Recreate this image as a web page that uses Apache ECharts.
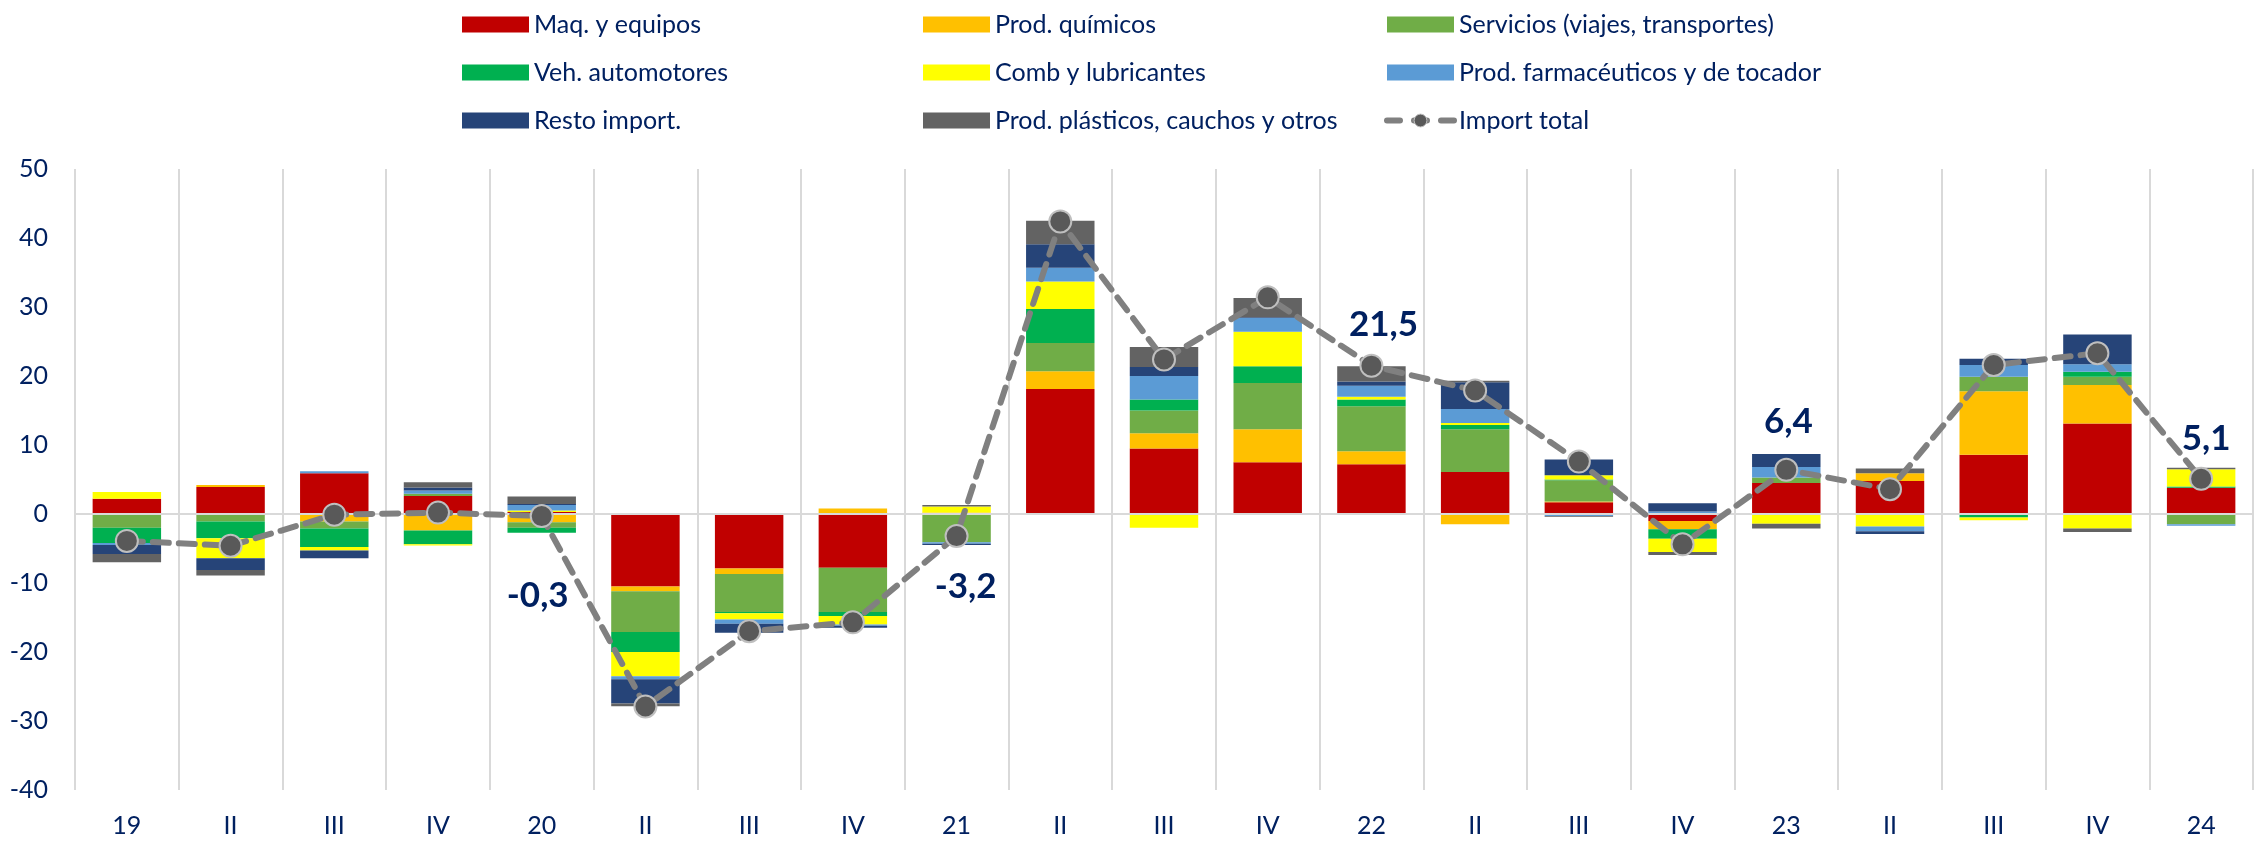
<!DOCTYPE html>
<html>
<head>
<meta charset="utf-8">
<script src="https://cdn.jsdelivr.net/npm/echarts@6/dist/echarts.min.js"></script>
<style>
  html, body { margin: 0; padding: 0; background: #ffffff; }
  #chart { width: 2265px; height: 841px; }
</style>
</head>
<body>
<div id="chart"></div>
<script>
  // trimestres
  var categorias = ['19', 'II', 'III', 'IV', '20', 'II', 'III', 'IV', '21', 'II', 'III', 'IV',
    '22', 'II', 'III', 'IV', '23', 'II', 'III', 'IV', '24'];

  // contribuciones por rubro (pp)
  var maqEquipos = [2.2, 3.9, 5.9, 2.6, 0.3, -10.5, -7.9, -7.8, 0, 18.1, 9.5, 7.5, 7.2, 6.1, 1.7, -1.0, 4.5, 4.8, 8.6, 13.1, 3.8];
  var prodQuimicos = [0, 0.3, -1.1, -2.4, -1.2, -0.7, -0.8, 0.8, 0.2, 2.6, 2.2, 4.8, 1.9, -1.5, 0.1, -1.2, 0, 1.1, 9.2, 5.6, 0];
  var servicios = [-2.0, -1.1, -1.0, 0.35, -0.8, -5.9, -5.5, -6.4, -4.1, 4.1, 3.3, 6.7, 6.5, 6.2, 3.1, 0, 0.8, 0, 2.1, 1.2, -1.5];
  var vehiculos = [-2.2, -2.4, -2.7, -2.0, -0.7, -2.9, -0.2, -0.6, 0, 4.9, 1.6, 2.4, 1.0, 0.6, 0.1, -1.4, -0.1, 0, -0.5, 0.7, 0.2];
  var combustibles = [1.0, -2.9, -0.5, -0.15, 0.2, -3.5, -0.9, -1.2, 0.9, 4.0, -2.0, 5.0, 0.4, 0.3, 0.6, -1.9, -1.3, -1.8, -0.4, -2.1, 2.5];
  var farmaceuticos = [-0.3, 0, 0.3, 0.45, 0.8, -0.45, -0.6, -0.2, -0.2, 2.0, 3.4, 2.0, 1.6, 2.0, -0.3, 0.35, 1.5, -0.7, 1.7, 1.1, -0.2];
  var restoImport = [-1.3, -1.7, -1.1, 0.45, 0.15, -3.5, -1.3, -0.3, -0.2, 3.4, 1.3, 0.1, 0.6, 3.9, 2.3, 1.2, 1.9, -0.4, 0.9, 4.3, 0];
  var plasticos = [-1.2, -0.8, 0, 0.75, 1.1, -0.4, 0, 0, 0.2, 3.4, 2.9, 2.8, 2.2, 0.2, -0.1, -0.45, -0.7, 0.7, 0, -0.5, 0.2];
  var importTotal = [-3.9, -4.6, -0.1, 0.2, -0.3, -27.9, -17.0, -15.7, -3.2, 42.4, 22.4, 31.4, 21.5, 17.9, 7.6, -4.4, 6.4, 3.6, 21.6, 23.3, 5.1];

  // eje y
  var yMin = -40, yMax = 50, yStep = 10;

  var navy = '#002060';
  var fuente = 'Lato, "Open Sans", sans-serif';

  // etiquetas del total solo en el primer trimestre de cada año (desde 2020)
  var etiquetas = {
    4: [-4, 80],
    8: [9, 51],
    12: [12, -41],
    16: [2, -48],
    20: [5, -40]
  };

  var rubros = [
    {name: 'Maq. y equipos', data: maqEquipos, color: '#C00000'},
    {name: 'Prod. químicos', data: prodQuimicos, color: '#FFC000'},
    {name: 'Servicios (viajes, transportes)', data: servicios, color: '#70AD47'},
    {name: 'Veh. automotores', data: vehiculos, color: '#00B050'},
    {name: 'Comb y lubricantes', data: combustibles, color: '#FFFF00'},
    {name: 'Prod. farmacéuticos y de tocador', data: farmaceuticos, color: '#5B9BD5'},
    {name: 'Resto import.', data: restoImport, color: '#264478'},
    {name: 'Prod. plásticos, cauchos y otros', data: plasticos, color: '#636363'}
  ];

  var series = rubros.map(function (r, i) {
    var s = {
      name: r.name,
      type: 'bar',
      stack: 'total',
      barCategoryGap: '34%',
      itemStyle: {color: r.color},
      emphasis: {disabled: true},
      data: r.data
    };
    if (i === 0) {
      //línea del cero
      s.markLine = {
        silent: true,
        symbol: 'none',
        label: {show: false},
        lineStyle: {color: '#d9d9d9', width: 2, type: 'solid'},
        data: [{yAxis: 0}]
      };
    }
    return s;
  });

  series.push({
    name: 'Import total',
    type: 'line',
    z: 5,
    symbol: 'circle',
    symbolSize: 22,
    lineStyle: {color: '#808080', width: 6, type: [16, 10], cap: 'round'},
    itemStyle: {color: '#595959', borderColor: '#bfbfbf', borderWidth: 2},
    emphasis: {disabled: true},
    data: importTotal.map(function (v, i) {
      var item = {value: v};
      if (etiquetas[i]) {
        item.label = {
          show: true,
          position: 'inside',
          offset: etiquetas[i],
          formatter: String(v).replace('.', ','),
          color: navy,
          fontFamily: fuente,
          fontWeight: 'bold',
          fontSize: 35
        };
      }
      return item;
    })
  });

  function itemLeyenda(nombre) {
    if (nombre === 'Import total') {
      return {
        name: nombre,
        itemStyle: {color: '#595959', borderColor: '#bfbfbf', borderWidth: 1},
        lineStyle: {color: '#808080', width: 6, type: [13, 14]}
      };
    }
    return {name: nombre, icon: 'rect'};
  }

  var legendBase = {
    orient: 'vertical',
    top: 7,
    itemWidth: 67,
    itemHeight: 16,
    itemGap: 23,
    textStyle: {color: navy, fontSize: 25, fontFamily: fuente}
  };

  var chart = echarts.init(document.getElementById('chart'));
  chart.setOption({
    backgroundColor: '#ffffff',
    animation: false,
    textStyle: {fontFamily: fuente},
    legend: [
      Object.assign({}, legendBase, {left: 457, data: ['Maq. y equipos', 'Veh. automotores', 'Resto import.'].map(itemLeyenda)}),
      Object.assign({}, legendBase, {left: 918, data: ['Prod. químicos', 'Comb y lubricantes', 'Prod. plásticos, cauchos y otros'].map(itemLeyenda)}),
      Object.assign({}, legendBase, {left: 1379, data: ['Servicios (viajes, transportes)', 'Prod. farmacéuticos y de tocador', 'Import total'].map(itemLeyenda)})
    ],
    grid: {
      left: 75,
      right: 12,
      top: 169,
      bottom: 51
    },
    xAxis: {
      type: 'category',
      data: categorias,
      axisLine: {show: false, onZero: false},
      axisTick: {show: false},
      splitLine: {show: true, lineStyle: {color: '#d9d9d9', width: 2}},
      axisLabel: {color: navy, fontSize: 25, margin: 23, fontFamily: fuente}
    },
    yAxis: {
      type: 'value',
      min: yMin,
      max: yMax,
      interval: yStep,
      axisLine: {show: false},
      axisTick: {show: false},
      splitLine: {show: false},
      axisLabel: {color: navy, fontSize: 25, margin: 27, fontFamily: fuente}
    },
    series: series
  });
</script>
</body>
</html>
